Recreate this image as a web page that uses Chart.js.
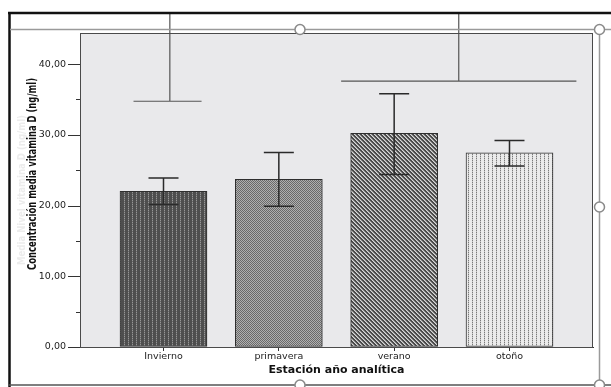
<!DOCTYPE html>
<html>
<head>
<meta charset="utf-8">
<script src="https://cdn.jsdelivr.net/npm/chart.js@4/dist/chart.umd.min.js"></script>
<style>
html, body { margin: 0; padding: 0; background: #fff; }
#wrap { width: 611px; height: 387px; }
</style>
</head>
<body>
<div id="wrap"><canvas id="vitChart" width="611" height="387"></canvas></div>
<script>
const seasons = ["Invierno", "primavera", "verano", "otoño"];
const meanVitD = [22.0, 23.7, 30.2, 27.45];
const ciLow = [20.15, 19.9, 24.4, 25.6];
const ciHigh = [23.9, 27.5, 35.8, 29.2];
const yTicks = [0, 5, 10, 15, 20, 25, 30, 35, 40];

// significance brackets (y level, left end, right end, stem) in axis units
const bracketY = [34.75, 37.6];
const bracketFrom = [-0.26, 1.54];
const bracketTo = [0.33, 3.58];
const bracketStem = [0.055, 2.56];

const canvas = document.getElementById("vitChart");
const ctx = canvas.getContext("2d");

// small tiles for the SPSS-like fill patterns
function makePattern(w, h, draw) {
	const c = document.createElement("canvas");
	c.width = w;
	c.height = h;
	draw(c.getContext("2d"));
	return ctx.createPattern(c, "repeat");
}

const fills = [
	makePattern(4, 2, function (g) {
		g.fillStyle = "#4e4e4e"; g.fillRect(0, 0, 4, 2);
		g.fillStyle = "#969696"; g.fillRect(0, 0, 1, 1);
		g.fillStyle = "#686868"; g.fillRect(0, 1, 1, 1);
	}),
	makePattern(2, 2, function (g) {
		g.fillStyle = "#b0b0b0"; g.fillRect(0, 0, 2, 2);
		g.fillStyle = "#6a6a6a"; g.fillRect(0, 0, 1, 1); g.fillRect(1, 1, 1, 1);
	}),
	makePattern(4, 4, function (g) {
		g.fillStyle = "#4a4a4a"; g.fillRect(0, 0, 4, 4);
		g.fillStyle = "#d8d8d8";
		for (let i = 0; i < 4; i++) g.fillRect(i, i, 1, 1);
		g.fillStyle = "#9a9a9a";
		for (let i = 0; i < 4; i++) g.fillRect((i + 1) % 4, i, 1, 1);
	}),
	makePattern(4, 2, function (g) {
		g.fillStyle = "#ebebeb"; g.fillRect(0, 0, 4, 2);
		g.fillStyle = "#7a7a7a"; g.fillRect(0, 0, 1, 1);
		g.fillStyle = "#c4c4c4"; g.fillRect(0, 1, 1, 1);
	}),
];

// rotated text squeezed to a given length (the original uses a narrow font)
function narrowText(c, text, cx, cy, len, font, color) {
	c.save();
	c.translate(cx, cy);
	c.rotate(-Math.PI / 2);
	c.font = font;
	c.textAlign = "center";
	c.textBaseline = "middle";
	c.fillStyle = color;
	const w = c.measureText(text).width;
	c.scale(len / w, 1);
	c.fillText(text, 0, 0);
	c.restore();
}

const decor = {
	id: "decor",
	beforeDraw(chart) {
		const { ctx, chartArea: a } = chart;
		ctx.save();
		ctx.fillStyle = "#fff";
		ctx.fillRect(0, 0, chart.width, chart.height);
		ctx.fillStyle = "#e9e9eb";
		ctx.fillRect(a.left, a.top, a.right - a.left, a.bottom - a.top);
		ctx.restore();
	},
	afterDatasetsDraw(chart) {
		const { ctx, chartArea: a } = chart;
		const x = chart.scales.x;
		const y = chart.scales.y;
		ctx.save();
		// error bars
		ctx.strokeStyle = "#2a2a2a";
		ctx.lineWidth = 1.5;
		for (let i = 0; i < meanVitD.length; i++) {
			const px = x.getPixelForValue(i);
			const lo = y.getPixelForValue(ciLow[i]);
			const hi = y.getPixelForValue(ciHigh[i]);
			ctx.beginPath();
			ctx.moveTo(px, lo); ctx.lineTo(px, hi);
			ctx.moveTo(px - 15, lo); ctx.lineTo(px + 15, lo);
			ctx.moveTo(px - 15, hi); ctx.lineTo(px + 15, hi);
			ctx.stroke();
		}
		// brackets, stems run up to the outer frame
		ctx.strokeStyle = "#555";
		ctx.lineWidth = 1.2;
		for (let i = 0; i < bracketY.length; i++) {
			const by = y.getPixelForValue(bracketY[i]);
			ctx.beginPath();
			ctx.moveTo(x.getPixelForValue(bracketFrom[i]), by);
			ctx.lineTo(x.getPixelForValue(bracketTo[i]), by);
			ctx.moveTo(x.getPixelForValue(bracketStem[i]), by);
			ctx.lineTo(x.getPixelForValue(bracketStem[i]), 13);
			ctx.stroke();
		}
		// y tick marks, long for labelled ones
		ctx.strokeStyle = "#333";
		ctx.lineWidth = 1;
		yTicks.forEach(function (v) {
			const py = Math.round(y.getPixelForValue(v)) + 0.5;
			ctx.beginPath();
			ctx.moveTo(a.left - (v % 10 === 0 ? 12 : 4), py);
			ctx.lineTo(a.left, py);
			ctx.stroke();
		});
		ctx.restore();
	},
	afterDraw(chart) {
		const { ctx, chartArea: a } = chart;
		ctx.save();
		ctx.strokeStyle = "#4a4a4a";
		ctx.lineWidth = 1;
		ctx.strokeRect(a.left + 0.5, a.top + 0.5, a.right - a.left - 1, a.bottom - a.top);

		// y title, with a faint ghost of an older label behind it
		narrowText(ctx, "Media Nivel vitamina D (ng/ml)", 22, 190, 150,
			'bold 11px "DejaVu Sans", sans-serif', "#ececec");
		narrowText(ctx, "Concentración media vitamina D (ng/ml)", 33, 174, 192,
			'bold 12px "DejaVu Sans", sans-serif', "#111");

		// editor frame with selection handles
		ctx.strokeStyle = "#111";
		ctx.lineWidth = 2.5;
		ctx.beginPath();
		ctx.moveTo(8, 13); ctx.lineTo(611, 13);
		ctx.moveTo(9.5, 13); ctx.lineTo(9.5, 387);
		ctx.stroke();
		ctx.strokeStyle = "#555";
		ctx.lineWidth = 1.5;
		ctx.beginPath();
		ctx.moveTo(8, 385); ctx.lineTo(611, 385);
		ctx.stroke();
		ctx.strokeStyle = "#9a9a9a";
		ctx.lineWidth = 1.5;
		ctx.beginPath();
		ctx.moveTo(10, 29.5); ctx.lineTo(611, 29.5);
		ctx.moveTo(599.5, 29); ctx.lineTo(599.5, 387);
		ctx.stroke();
		[[300, 29.5], [599.5, 29.5], [599.5, 207], [300, 385], [599.5, 385]].forEach(function (p) {
			ctx.beginPath();
			ctx.arc(p[0], p[1], 5, 0, Math.PI * 2);
			ctx.fillStyle = "#fff";
			ctx.fill();
			ctx.strokeStyle = "#8a8a8a";
			ctx.lineWidth = 1.5;
			ctx.stroke();
		});
		ctx.restore();
	},
};

new Chart(canvas, {
	type: "bar",
	data: {
		datasets: [
			{
				data: meanVitD.map(function (v, i) { return { x: i, y: v }; }),
				backgroundColor: fills,
				borderColor: "#2e2e2e",
				borderWidth: 1,
				borderSkipped: false,
				barThickness: 87,
			},
		],
	},
	options: {
		responsive: false,
		animation: false,
		layout: { padding: { top: 33, right: 18, bottom: 0, left: 0 } },
		scales: {
			x: {
				type: "linear",
				min: -0.724,
				max: 3.724,
				offset: false,
				afterBuildTicks: function (scale) {
					scale.ticks = seasons.map(function (s, i) { return { value: i }; });
				},
				afterFit: function (scale) { scale.height = 40; },
				grid: { offset: false, drawOnChartArea: false, tickLength: 4, color: "#333" },
				border: { color: "#333" },
				ticks: {
					color: "#222",
					padding: 0,
					maxRotation: 0,
					font: { family: "DejaVu Sans", size: 9.5 },
					callback: function (v) { return seasons[v]; },
				},
				title: {
					display: true,
					text: "Estación año analítica",
					color: "#111",
					font: { family: "DejaVu Sans", size: 11, weight: "bold" },
					padding: { top: 0, bottom: 10 },
				},
			},
			y: {
				min: 0,
				max: 44.4,
				afterBuildTicks: function (scale) {
					scale.ticks = yTicks.map(function (v) { return { value: v }; });
				},
				afterFit: function (scale) { scale.width = 80; },
				grid: { display: true, drawOnChartArea: false, drawTicks: false },
				border: { color: "#333" },
				ticks: {
					color: "#222",
					padding: 14,
					font: { family: "DejaVu Sans", size: 9.5 },
					callback: function (v) {
						return v % 10 === 0 ? v.toFixed(2).replace(".", ",") : "";
					},
				},
			},
		},
		plugins: {
			legend: { display: false },
			tooltip: { enabled: false },
		},
	},
	plugins: [decor],
});
</script>
</body>
</html>
